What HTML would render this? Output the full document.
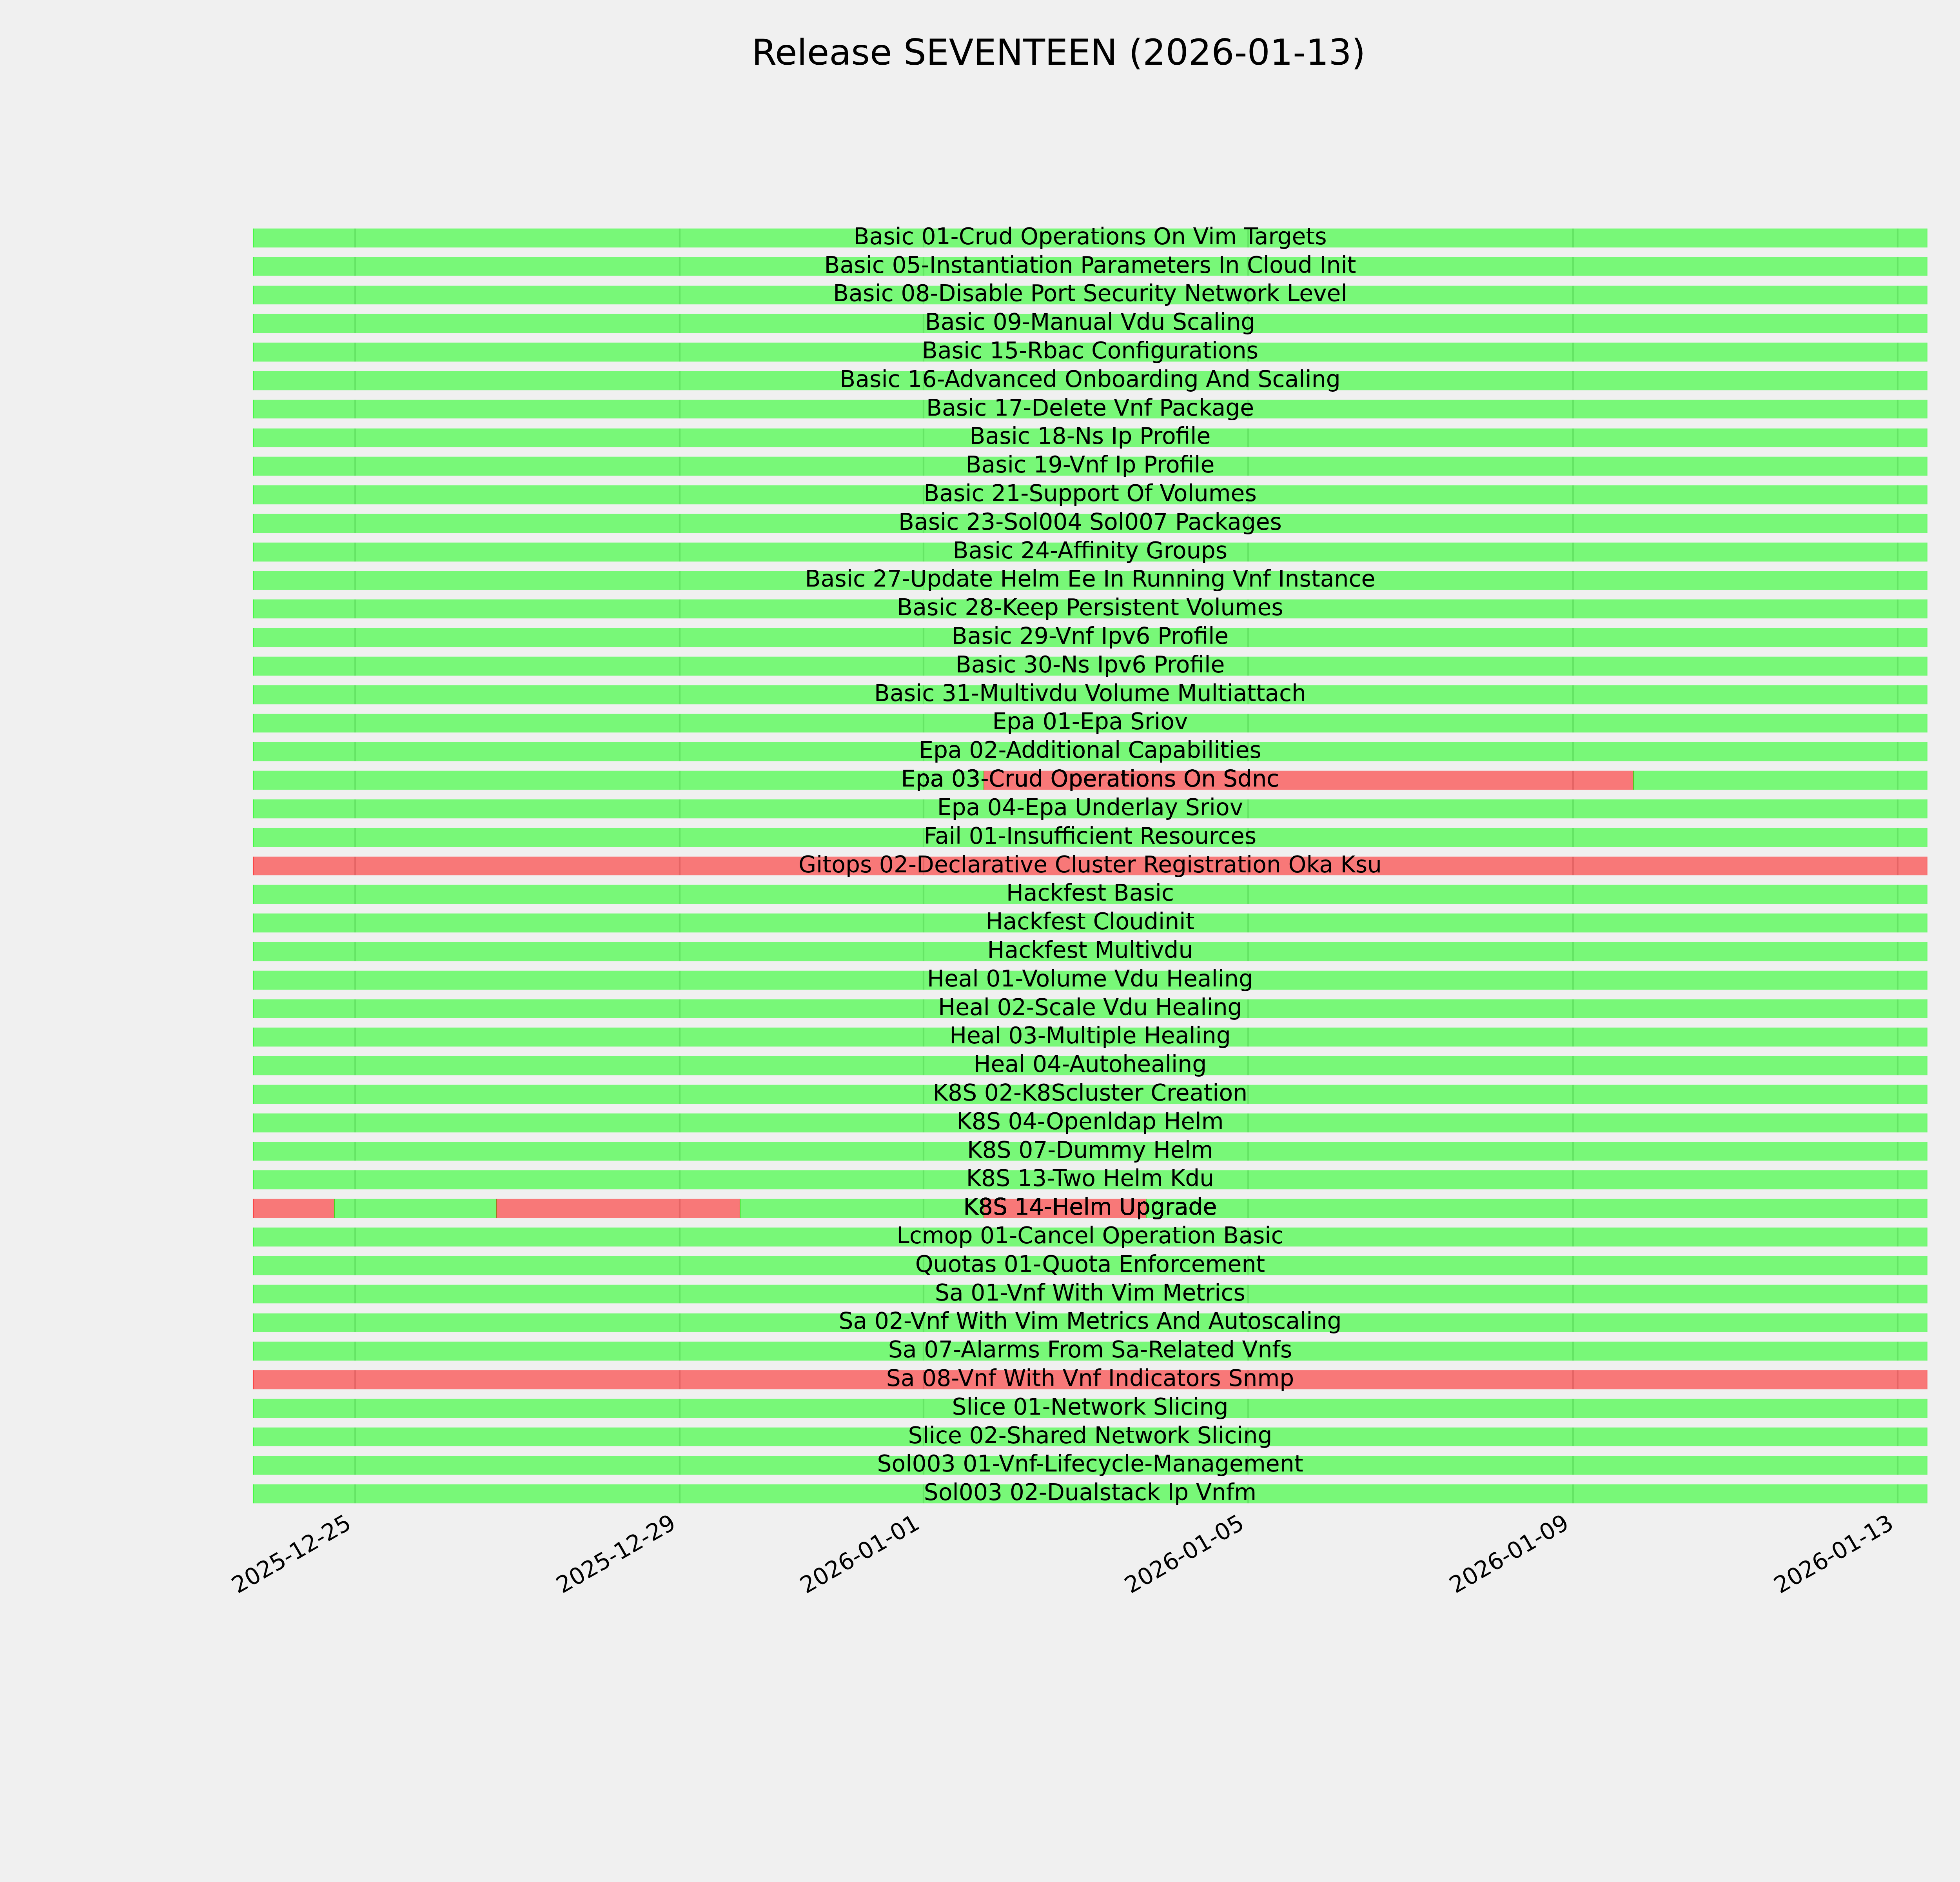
<!DOCTYPE html>
<html lang="en"><head><meta charset="utf-8"><title>Release SEVENTEEN (2026-01-13)</title>
<style>
html,body{margin:0;padding:0;background:#f0f0f0;width:5400px;height:4800px;overflow:hidden}
svg{display:block}
text{font-family:"DejaVu Sans","Liberation Sans",sans-serif;fill:#000}
.l{font-size:58.333px;text-anchor:middle}
.t{font-size:58.333px;text-anchor:end}
.g{fill:#cbcbcb}
.a{fill:#00ff00;fill-opacity:.5}
.r{fill:#ff0000;fill-opacity:.5}
.s{fill:#f0f0f0}
</style></head><body>
<svg width="5400" height="4800" viewBox="0 0 5400 4800">
<rect width="5400" height="4800" fill="#f0f0f0"/>
<g><rect class="g" x="903.917" y="579.743" width="4.167" height="54.514"/><rect class="g" x="1731.917" y="579.743" width="4.167" height="54.514"/><rect class="g" x="2353.917" y="579.743" width="4.167" height="54.514"/><rect class="g" x="3181.917" y="579.743" width="4.167" height="54.514"/><rect class="g" x="4010.917" y="579.743" width="4.167" height="54.514"/><rect class="g" x="4838.917" y="579.743" width="4.167" height="54.514"/><rect class="a" x="646" y="579.743" width="4270" height="54.514"/><rect class="a" x="644.958" y="579.743" width="2.083" height="54.514"/><rect class="a" x="4914.958" y="579.743" width="2.083" height="54.514"/><rect class="s" x="600" y="578.743" width="4400" height="4"/><rect class="s" x="600" y="631.257" width="4400" height="4"/></g>
<g><rect class="g" x="903.917" y="652.743" width="4.167" height="53.514"/><rect class="g" x="1731.917" y="652.743" width="4.167" height="53.514"/><rect class="g" x="2353.917" y="652.743" width="4.167" height="53.514"/><rect class="g" x="3181.917" y="652.743" width="4.167" height="53.514"/><rect class="g" x="4010.917" y="652.743" width="4.167" height="53.514"/><rect class="g" x="4838.917" y="652.743" width="4.167" height="53.514"/><rect class="a" x="646" y="652.743" width="4270" height="53.514"/><rect class="a" x="644.958" y="652.743" width="2.083" height="53.514"/><rect class="a" x="4914.958" y="652.743" width="2.083" height="53.514"/><rect class="s" x="600" y="651.743" width="4400" height="4"/><rect class="s" x="600" y="703.257" width="4400" height="4"/></g>
<g><rect class="g" x="903.917" y="725.743" width="4.167" height="53.514"/><rect class="g" x="1731.917" y="725.743" width="4.167" height="53.514"/><rect class="g" x="2353.917" y="725.743" width="4.167" height="53.514"/><rect class="g" x="3181.917" y="725.743" width="4.167" height="53.514"/><rect class="g" x="4010.917" y="725.743" width="4.167" height="53.514"/><rect class="g" x="4838.917" y="725.743" width="4.167" height="53.514"/><rect class="a" x="646" y="725.743" width="4270" height="53.514"/><rect class="a" x="644.958" y="725.743" width="2.083" height="53.514"/><rect class="a" x="4914.958" y="725.743" width="2.083" height="53.514"/><rect class="s" x="600" y="724.743" width="4400" height="4"/><rect class="s" x="600" y="776.257" width="4400" height="4"/></g>
<g><rect class="g" x="903.917" y="797.743" width="4.167" height="54.514"/><rect class="g" x="1731.917" y="797.743" width="4.167" height="54.514"/><rect class="g" x="2353.917" y="797.743" width="4.167" height="54.514"/><rect class="g" x="3181.917" y="797.743" width="4.167" height="54.514"/><rect class="g" x="4010.917" y="797.743" width="4.167" height="54.514"/><rect class="g" x="4838.917" y="797.743" width="4.167" height="54.514"/><rect class="a" x="646" y="797.743" width="4270" height="54.514"/><rect class="a" x="644.958" y="797.743" width="2.083" height="54.514"/><rect class="a" x="4914.958" y="797.743" width="2.083" height="54.514"/><rect class="s" x="600" y="796.743" width="4400" height="4"/><rect class="s" x="600" y="849.257" width="4400" height="4"/></g>
<g><rect class="g" x="903.917" y="870.743" width="4.167" height="54.514"/><rect class="g" x="1731.917" y="870.743" width="4.167" height="54.514"/><rect class="g" x="2353.917" y="870.743" width="4.167" height="54.514"/><rect class="g" x="3181.917" y="870.743" width="4.167" height="54.514"/><rect class="g" x="4010.917" y="870.743" width="4.167" height="54.514"/><rect class="g" x="4838.917" y="870.743" width="4.167" height="54.514"/><rect class="a" x="646" y="870.743" width="4270" height="54.514"/><rect class="a" x="644.958" y="870.743" width="2.083" height="54.514"/><rect class="a" x="4914.958" y="870.743" width="2.083" height="54.514"/><rect class="s" x="600" y="869.743" width="4400" height="4"/><rect class="s" x="600" y="922.257" width="4400" height="4"/></g>
<g><rect class="g" x="903.917" y="943.743" width="4.167" height="54.514"/><rect class="g" x="1731.917" y="943.743" width="4.167" height="54.514"/><rect class="g" x="2353.917" y="943.743" width="4.167" height="54.514"/><rect class="g" x="3181.917" y="943.743" width="4.167" height="54.514"/><rect class="g" x="4010.917" y="943.743" width="4.167" height="54.514"/><rect class="g" x="4838.917" y="943.743" width="4.167" height="54.514"/><rect class="a" x="646" y="943.743" width="4270" height="54.514"/><rect class="a" x="644.958" y="943.743" width="2.083" height="54.514"/><rect class="a" x="4914.958" y="943.743" width="2.083" height="54.514"/><rect class="s" x="600" y="942.743" width="4400" height="4"/><rect class="s" x="600" y="995.257" width="4400" height="4"/></g>
<g><rect class="g" x="903.917" y="1016.743" width="4.167" height="53.514"/><rect class="g" x="1731.917" y="1016.743" width="4.167" height="53.514"/><rect class="g" x="2353.917" y="1016.743" width="4.167" height="53.514"/><rect class="g" x="3181.917" y="1016.743" width="4.167" height="53.514"/><rect class="g" x="4010.917" y="1016.743" width="4.167" height="53.514"/><rect class="g" x="4838.917" y="1016.743" width="4.167" height="53.514"/><rect class="a" x="646" y="1016.743" width="4270" height="53.514"/><rect class="a" x="644.958" y="1016.743" width="2.083" height="53.514"/><rect class="a" x="4914.958" y="1016.743" width="2.083" height="53.514"/><rect class="s" x="600" y="1015.743" width="4400" height="4"/><rect class="s" x="600" y="1067.257" width="4400" height="4"/></g>
<g><rect class="g" x="903.917" y="1089.743" width="4.167" height="53.514"/><rect class="g" x="1731.917" y="1089.743" width="4.167" height="53.514"/><rect class="g" x="2353.917" y="1089.743" width="4.167" height="53.514"/><rect class="g" x="3181.917" y="1089.743" width="4.167" height="53.514"/><rect class="g" x="4010.917" y="1089.743" width="4.167" height="53.514"/><rect class="g" x="4838.917" y="1089.743" width="4.167" height="53.514"/><rect class="a" x="646" y="1089.743" width="4270" height="53.514"/><rect class="a" x="644.958" y="1089.743" width="2.083" height="53.514"/><rect class="a" x="4914.958" y="1089.743" width="2.083" height="53.514"/><rect class="s" x="600" y="1088.743" width="4400" height="4"/><rect class="s" x="600" y="1140.257" width="4400" height="4"/></g>
<g><rect class="g" x="903.917" y="1161.743" width="4.167" height="54.514"/><rect class="g" x="1731.917" y="1161.743" width="4.167" height="54.514"/><rect class="g" x="2353.917" y="1161.743" width="4.167" height="54.514"/><rect class="g" x="3181.917" y="1161.743" width="4.167" height="54.514"/><rect class="g" x="4010.917" y="1161.743" width="4.167" height="54.514"/><rect class="g" x="4838.917" y="1161.743" width="4.167" height="54.514"/><rect class="a" x="646" y="1161.743" width="4270" height="54.514"/><rect class="a" x="644.958" y="1161.743" width="2.083" height="54.514"/><rect class="a" x="4914.958" y="1161.743" width="2.083" height="54.514"/><rect class="s" x="600" y="1160.743" width="4400" height="4"/><rect class="s" x="600" y="1213.257" width="4400" height="4"/></g>
<g><rect class="g" x="903.917" y="1234.743" width="4.167" height="54.514"/><rect class="g" x="1731.917" y="1234.743" width="4.167" height="54.514"/><rect class="g" x="2353.917" y="1234.743" width="4.167" height="54.514"/><rect class="g" x="3181.917" y="1234.743" width="4.167" height="54.514"/><rect class="g" x="4010.917" y="1234.743" width="4.167" height="54.514"/><rect class="g" x="4838.917" y="1234.743" width="4.167" height="54.514"/><rect class="a" x="646" y="1234.743" width="4270" height="54.514"/><rect class="a" x="644.958" y="1234.743" width="2.083" height="54.514"/><rect class="a" x="4914.958" y="1234.743" width="2.083" height="54.514"/><rect class="s" x="600" y="1233.743" width="4400" height="4"/><rect class="s" x="600" y="1286.257" width="4400" height="4"/></g>
<g><rect class="g" x="903.917" y="1307.743" width="4.167" height="54.514"/><rect class="g" x="1731.917" y="1307.743" width="4.167" height="54.514"/><rect class="g" x="2353.917" y="1307.743" width="4.167" height="54.514"/><rect class="g" x="3181.917" y="1307.743" width="4.167" height="54.514"/><rect class="g" x="4010.917" y="1307.743" width="4.167" height="54.514"/><rect class="g" x="4838.917" y="1307.743" width="4.167" height="54.514"/><rect class="a" x="646" y="1307.743" width="4270" height="54.514"/><rect class="a" x="644.958" y="1307.743" width="2.083" height="54.514"/><rect class="a" x="4914.958" y="1307.743" width="2.083" height="54.514"/><rect class="s" x="600" y="1306.743" width="4400" height="4"/><rect class="s" x="600" y="1359.257" width="4400" height="4"/></g>
<g><rect class="g" x="903.917" y="1380.743" width="4.167" height="54.514"/><rect class="g" x="1731.917" y="1380.743" width="4.167" height="54.514"/><rect class="g" x="2353.917" y="1380.743" width="4.167" height="54.514"/><rect class="g" x="3181.917" y="1380.743" width="4.167" height="54.514"/><rect class="g" x="4010.917" y="1380.743" width="4.167" height="54.514"/><rect class="g" x="4838.917" y="1380.743" width="4.167" height="54.514"/><rect class="a" x="646" y="1380.743" width="4270" height="54.514"/><rect class="a" x="644.958" y="1380.743" width="2.083" height="54.514"/><rect class="a" x="4914.958" y="1380.743" width="2.083" height="54.514"/><rect class="s" x="600" y="1379.743" width="4400" height="4"/><rect class="s" x="600" y="1432.257" width="4400" height="4"/></g>
<g><rect class="g" x="903.917" y="1453.743" width="4.167" height="53.514"/><rect class="g" x="1731.917" y="1453.743" width="4.167" height="53.514"/><rect class="g" x="2353.917" y="1453.743" width="4.167" height="53.514"/><rect class="g" x="3181.917" y="1453.743" width="4.167" height="53.514"/><rect class="g" x="4010.917" y="1453.743" width="4.167" height="53.514"/><rect class="g" x="4838.917" y="1453.743" width="4.167" height="53.514"/><rect class="a" x="646" y="1453.743" width="4270" height="53.514"/><rect class="a" x="644.958" y="1453.743" width="2.083" height="53.514"/><rect class="a" x="4914.958" y="1453.743" width="2.083" height="53.514"/><rect class="s" x="600" y="1452.743" width="4400" height="4"/><rect class="s" x="600" y="1504.257" width="4400" height="4"/></g>
<g><rect class="g" x="903.917" y="1525.743" width="4.167" height="54.514"/><rect class="g" x="1731.917" y="1525.743" width="4.167" height="54.514"/><rect class="g" x="2353.917" y="1525.743" width="4.167" height="54.514"/><rect class="g" x="3181.917" y="1525.743" width="4.167" height="54.514"/><rect class="g" x="4010.917" y="1525.743" width="4.167" height="54.514"/><rect class="g" x="4838.917" y="1525.743" width="4.167" height="54.514"/><rect class="a" x="646" y="1525.743" width="4270" height="54.514"/><rect class="a" x="644.958" y="1525.743" width="2.083" height="54.514"/><rect class="a" x="4914.958" y="1525.743" width="2.083" height="54.514"/><rect class="s" x="600" y="1524.743" width="4400" height="4"/><rect class="s" x="600" y="1577.257" width="4400" height="4"/></g>
<g><rect class="g" x="903.917" y="1598.743" width="4.167" height="54.514"/><rect class="g" x="1731.917" y="1598.743" width="4.167" height="54.514"/><rect class="g" x="2353.917" y="1598.743" width="4.167" height="54.514"/><rect class="g" x="3181.917" y="1598.743" width="4.167" height="54.514"/><rect class="g" x="4010.917" y="1598.743" width="4.167" height="54.514"/><rect class="g" x="4838.917" y="1598.743" width="4.167" height="54.514"/><rect class="a" x="646" y="1598.743" width="4270" height="54.514"/><rect class="a" x="644.958" y="1598.743" width="2.083" height="54.514"/><rect class="a" x="4914.958" y="1598.743" width="2.083" height="54.514"/><rect class="s" x="600" y="1597.743" width="4400" height="4"/><rect class="s" x="600" y="1650.257" width="4400" height="4"/></g>
<g><rect class="g" x="903.917" y="1671.743" width="4.167" height="54.514"/><rect class="g" x="1731.917" y="1671.743" width="4.167" height="54.514"/><rect class="g" x="2353.917" y="1671.743" width="4.167" height="54.514"/><rect class="g" x="3181.917" y="1671.743" width="4.167" height="54.514"/><rect class="g" x="4010.917" y="1671.743" width="4.167" height="54.514"/><rect class="g" x="4838.917" y="1671.743" width="4.167" height="54.514"/><rect class="a" x="646" y="1671.743" width="4270" height="54.514"/><rect class="a" x="644.958" y="1671.743" width="2.083" height="54.514"/><rect class="a" x="4914.958" y="1671.743" width="2.083" height="54.514"/><rect class="s" x="600" y="1670.743" width="4400" height="4"/><rect class="s" x="600" y="1723.257" width="4400" height="4"/></g>
<g><rect class="g" x="903.917" y="1744.743" width="4.167" height="54.514"/><rect class="g" x="1731.917" y="1744.743" width="4.167" height="54.514"/><rect class="g" x="2353.917" y="1744.743" width="4.167" height="54.514"/><rect class="g" x="3181.917" y="1744.743" width="4.167" height="54.514"/><rect class="g" x="4010.917" y="1744.743" width="4.167" height="54.514"/><rect class="g" x="4838.917" y="1744.743" width="4.167" height="54.514"/><rect class="a" x="646" y="1744.743" width="4270" height="54.514"/><rect class="a" x="644.958" y="1744.743" width="2.083" height="54.514"/><rect class="a" x="4914.958" y="1744.743" width="2.083" height="54.514"/><rect class="s" x="600" y="1743.743" width="4400" height="4"/><rect class="s" x="600" y="1796.257" width="4400" height="4"/></g>
<g><rect class="g" x="903.917" y="1817.743" width="4.167" height="53.514"/><rect class="g" x="1731.917" y="1817.743" width="4.167" height="53.514"/><rect class="g" x="2353.917" y="1817.743" width="4.167" height="53.514"/><rect class="g" x="3181.917" y="1817.743" width="4.167" height="53.514"/><rect class="g" x="4010.917" y="1817.743" width="4.167" height="53.514"/><rect class="g" x="4838.917" y="1817.743" width="4.167" height="53.514"/><rect class="a" x="646" y="1817.743" width="4270" height="53.514"/><rect class="a" x="644.958" y="1817.743" width="2.083" height="53.514"/><rect class="a" x="4914.958" y="1817.743" width="2.083" height="53.514"/><rect class="s" x="600" y="1816.743" width="4400" height="4"/><rect class="s" x="600" y="1868.257" width="4400" height="4"/></g>
<g><rect class="g" x="903.917" y="1889.743" width="4.167" height="54.514"/><rect class="g" x="1731.917" y="1889.743" width="4.167" height="54.514"/><rect class="g" x="2353.917" y="1889.743" width="4.167" height="54.514"/><rect class="g" x="3181.917" y="1889.743" width="4.167" height="54.514"/><rect class="g" x="4010.917" y="1889.743" width="4.167" height="54.514"/><rect class="g" x="4838.917" y="1889.743" width="4.167" height="54.514"/><rect class="a" x="646" y="1889.743" width="4270" height="54.514"/><rect class="a" x="644.958" y="1889.743" width="2.083" height="54.514"/><rect class="a" x="4914.958" y="1889.743" width="2.083" height="54.514"/><rect class="s" x="600" y="1888.743" width="4400" height="4"/><rect class="s" x="600" y="1941.257" width="4400" height="4"/></g>
<g><rect class="g" x="903.917" y="1962.743" width="4.167" height="54.514"/><rect class="g" x="1731.917" y="1962.743" width="4.167" height="54.514"/><rect class="g" x="2353.917" y="1962.743" width="4.167" height="54.514"/><rect class="g" x="3181.917" y="1962.743" width="4.167" height="54.514"/><rect class="g" x="4010.917" y="1962.743" width="4.167" height="54.514"/><rect class="g" x="4838.917" y="1962.743" width="4.167" height="54.514"/><rect class="a" x="646" y="1962.743" width="1864" height="54.514"/><rect class="a" x="644.958" y="1962.743" width="2.083" height="54.514"/><rect class="a" x="2508.958" y="1962.743" width="2.083" height="54.514"/><rect class="r" x="2510" y="1962.743" width="1657" height="54.514"/><rect class="r" x="2508.958" y="1962.743" width="2.083" height="54.514"/><rect class="r" x="4165.958" y="1962.743" width="2.083" height="54.514"/><rect class="a" x="4167" y="1962.743" width="749" height="54.514"/><rect class="a" x="4165.958" y="1962.743" width="2.083" height="54.514"/><rect class="a" x="4914.958" y="1962.743" width="2.083" height="54.514"/><rect class="s" x="600" y="1961.743" width="4400" height="4"/><rect class="s" x="600" y="2014.257" width="4400" height="4"/></g>
<g><rect class="g" x="903.917" y="2035.743" width="4.167" height="54.514"/><rect class="g" x="1731.917" y="2035.743" width="4.167" height="54.514"/><rect class="g" x="2353.917" y="2035.743" width="4.167" height="54.514"/><rect class="g" x="3181.917" y="2035.743" width="4.167" height="54.514"/><rect class="g" x="4010.917" y="2035.743" width="4.167" height="54.514"/><rect class="g" x="4838.917" y="2035.743" width="4.167" height="54.514"/><rect class="a" x="646" y="2035.743" width="4270" height="54.514"/><rect class="a" x="644.958" y="2035.743" width="2.083" height="54.514"/><rect class="a" x="4914.958" y="2035.743" width="2.083" height="54.514"/><rect class="s" x="600" y="2034.743" width="4400" height="4"/><rect class="s" x="600" y="2087.257" width="4400" height="4"/></g>
<g><rect class="g" x="903.917" y="2108.743" width="4.167" height="54.514"/><rect class="g" x="1731.917" y="2108.743" width="4.167" height="54.514"/><rect class="g" x="2353.917" y="2108.743" width="4.167" height="54.514"/><rect class="g" x="3181.917" y="2108.743" width="4.167" height="54.514"/><rect class="g" x="4010.917" y="2108.743" width="4.167" height="54.514"/><rect class="g" x="4838.917" y="2108.743" width="4.167" height="54.514"/><rect class="a" x="646" y="2108.743" width="4270" height="54.514"/><rect class="a" x="644.958" y="2108.743" width="2.083" height="54.514"/><rect class="a" x="4914.958" y="2108.743" width="2.083" height="54.514"/><rect class="s" x="600" y="2107.743" width="4400" height="4"/><rect class="s" x="600" y="2160.257" width="4400" height="4"/></g>
<g><rect class="g" x="903.917" y="2181.743" width="4.167" height="53.514"/><rect class="g" x="1731.917" y="2181.743" width="4.167" height="53.514"/><rect class="g" x="2353.917" y="2181.743" width="4.167" height="53.514"/><rect class="g" x="3181.917" y="2181.743" width="4.167" height="53.514"/><rect class="g" x="4010.917" y="2181.743" width="4.167" height="53.514"/><rect class="g" x="4838.917" y="2181.743" width="4.167" height="53.514"/><rect class="r" x="646" y="2181.743" width="4270" height="53.514"/><rect class="r" x="644.958" y="2181.743" width="2.083" height="53.514"/><rect class="r" x="4914.958" y="2181.743" width="2.083" height="53.514"/><rect class="s" x="600" y="2180.743" width="4400" height="4"/><rect class="s" x="600" y="2232.257" width="4400" height="4"/></g>
<g><rect class="g" x="903.917" y="2253.743" width="4.167" height="54.514"/><rect class="g" x="1731.917" y="2253.743" width="4.167" height="54.514"/><rect class="g" x="2353.917" y="2253.743" width="4.167" height="54.514"/><rect class="g" x="3181.917" y="2253.743" width="4.167" height="54.514"/><rect class="g" x="4010.917" y="2253.743" width="4.167" height="54.514"/><rect class="g" x="4838.917" y="2253.743" width="4.167" height="54.514"/><rect class="a" x="646" y="2253.743" width="4270" height="54.514"/><rect class="a" x="644.958" y="2253.743" width="2.083" height="54.514"/><rect class="a" x="4914.958" y="2253.743" width="2.083" height="54.514"/><rect class="s" x="600" y="2252.743" width="4400" height="4"/><rect class="s" x="600" y="2305.257" width="4400" height="4"/></g>
<g><rect class="g" x="903.917" y="2326.743" width="4.167" height="54.514"/><rect class="g" x="1731.917" y="2326.743" width="4.167" height="54.514"/><rect class="g" x="2353.917" y="2326.743" width="4.167" height="54.514"/><rect class="g" x="3181.917" y="2326.743" width="4.167" height="54.514"/><rect class="g" x="4010.917" y="2326.743" width="4.167" height="54.514"/><rect class="g" x="4838.917" y="2326.743" width="4.167" height="54.514"/><rect class="a" x="646" y="2326.743" width="4270" height="54.514"/><rect class="a" x="644.958" y="2326.743" width="2.083" height="54.514"/><rect class="a" x="4914.958" y="2326.743" width="2.083" height="54.514"/><rect class="s" x="600" y="2325.743" width="4400" height="4"/><rect class="s" x="600" y="2378.257" width="4400" height="4"/></g>
<g><rect class="g" x="903.917" y="2399.743" width="4.167" height="54.514"/><rect class="g" x="1731.917" y="2399.743" width="4.167" height="54.514"/><rect class="g" x="2353.917" y="2399.743" width="4.167" height="54.514"/><rect class="g" x="3181.917" y="2399.743" width="4.167" height="54.514"/><rect class="g" x="4010.917" y="2399.743" width="4.167" height="54.514"/><rect class="g" x="4838.917" y="2399.743" width="4.167" height="54.514"/><rect class="a" x="646" y="2399.743" width="4270" height="54.514"/><rect class="a" x="644.958" y="2399.743" width="2.083" height="54.514"/><rect class="a" x="4914.958" y="2399.743" width="2.083" height="54.514"/><rect class="s" x="600" y="2398.743" width="4400" height="4"/><rect class="s" x="600" y="2451.257" width="4400" height="4"/></g>
<g><rect class="g" x="903.917" y="2472.743" width="4.167" height="54.514"/><rect class="g" x="1731.917" y="2472.743" width="4.167" height="54.514"/><rect class="g" x="2353.917" y="2472.743" width="4.167" height="54.514"/><rect class="g" x="3181.917" y="2472.743" width="4.167" height="54.514"/><rect class="g" x="4010.917" y="2472.743" width="4.167" height="54.514"/><rect class="g" x="4838.917" y="2472.743" width="4.167" height="54.514"/><rect class="a" x="646" y="2472.743" width="4270" height="54.514"/><rect class="a" x="644.958" y="2472.743" width="2.083" height="54.514"/><rect class="a" x="4914.958" y="2472.743" width="2.083" height="54.514"/><rect class="s" x="600" y="2471.743" width="4400" height="4"/><rect class="s" x="600" y="2524.257" width="4400" height="4"/></g>
<g><rect class="g" x="903.917" y="2545.743" width="4.167" height="53.514"/><rect class="g" x="1731.917" y="2545.743" width="4.167" height="53.514"/><rect class="g" x="2353.917" y="2545.743" width="4.167" height="53.514"/><rect class="g" x="3181.917" y="2545.743" width="4.167" height="53.514"/><rect class="g" x="4010.917" y="2545.743" width="4.167" height="53.514"/><rect class="g" x="4838.917" y="2545.743" width="4.167" height="53.514"/><rect class="a" x="646" y="2545.743" width="4270" height="53.514"/><rect class="a" x="644.958" y="2545.743" width="2.083" height="53.514"/><rect class="a" x="4914.958" y="2545.743" width="2.083" height="53.514"/><rect class="s" x="600" y="2544.743" width="4400" height="4"/><rect class="s" x="600" y="2596.257" width="4400" height="4"/></g>
<g><rect class="g" x="903.917" y="2617.743" width="4.167" height="54.514"/><rect class="g" x="1731.917" y="2617.743" width="4.167" height="54.514"/><rect class="g" x="2353.917" y="2617.743" width="4.167" height="54.514"/><rect class="g" x="3181.917" y="2617.743" width="4.167" height="54.514"/><rect class="g" x="4010.917" y="2617.743" width="4.167" height="54.514"/><rect class="g" x="4838.917" y="2617.743" width="4.167" height="54.514"/><rect class="a" x="646" y="2617.743" width="4270" height="54.514"/><rect class="a" x="644.958" y="2617.743" width="2.083" height="54.514"/><rect class="a" x="4914.958" y="2617.743" width="2.083" height="54.514"/><rect class="s" x="600" y="2616.743" width="4400" height="4"/><rect class="s" x="600" y="2669.257" width="4400" height="4"/></g>
<g><rect class="g" x="903.917" y="2690.743" width="4.167" height="54.514"/><rect class="g" x="1731.917" y="2690.743" width="4.167" height="54.514"/><rect class="g" x="2353.917" y="2690.743" width="4.167" height="54.514"/><rect class="g" x="3181.917" y="2690.743" width="4.167" height="54.514"/><rect class="g" x="4010.917" y="2690.743" width="4.167" height="54.514"/><rect class="g" x="4838.917" y="2690.743" width="4.167" height="54.514"/><rect class="a" x="646" y="2690.743" width="4270" height="54.514"/><rect class="a" x="644.958" y="2690.743" width="2.083" height="54.514"/><rect class="a" x="4914.958" y="2690.743" width="2.083" height="54.514"/><rect class="s" x="600" y="2689.743" width="4400" height="4"/><rect class="s" x="600" y="2742.257" width="4400" height="4"/></g>
<g><rect class="g" x="903.917" y="2763.743" width="4.167" height="54.514"/><rect class="g" x="1731.917" y="2763.743" width="4.167" height="54.514"/><rect class="g" x="2353.917" y="2763.743" width="4.167" height="54.514"/><rect class="g" x="3181.917" y="2763.743" width="4.167" height="54.514"/><rect class="g" x="4010.917" y="2763.743" width="4.167" height="54.514"/><rect class="g" x="4838.917" y="2763.743" width="4.167" height="54.514"/><rect class="a" x="646" y="2763.743" width="4270" height="54.514"/><rect class="a" x="644.958" y="2763.743" width="2.083" height="54.514"/><rect class="a" x="4914.958" y="2763.743" width="2.083" height="54.514"/><rect class="s" x="600" y="2762.743" width="4400" height="4"/><rect class="s" x="600" y="2815.257" width="4400" height="4"/></g>
<g><rect class="g" x="903.917" y="2836.743" width="4.167" height="54.514"/><rect class="g" x="1731.917" y="2836.743" width="4.167" height="54.514"/><rect class="g" x="2353.917" y="2836.743" width="4.167" height="54.514"/><rect class="g" x="3181.917" y="2836.743" width="4.167" height="54.514"/><rect class="g" x="4010.917" y="2836.743" width="4.167" height="54.514"/><rect class="g" x="4838.917" y="2836.743" width="4.167" height="54.514"/><rect class="a" x="646" y="2836.743" width="4270" height="54.514"/><rect class="a" x="644.958" y="2836.743" width="2.083" height="54.514"/><rect class="a" x="4914.958" y="2836.743" width="2.083" height="54.514"/><rect class="s" x="600" y="2835.743" width="4400" height="4"/><rect class="s" x="600" y="2888.257" width="4400" height="4"/></g>
<g><rect class="g" x="903.917" y="2909.743" width="4.167" height="53.514"/><rect class="g" x="1731.917" y="2909.743" width="4.167" height="53.514"/><rect class="g" x="2353.917" y="2909.743" width="4.167" height="53.514"/><rect class="g" x="3181.917" y="2909.743" width="4.167" height="53.514"/><rect class="g" x="4010.917" y="2909.743" width="4.167" height="53.514"/><rect class="g" x="4838.917" y="2909.743" width="4.167" height="53.514"/><rect class="a" x="646" y="2909.743" width="4270" height="53.514"/><rect class="a" x="644.958" y="2909.743" width="2.083" height="53.514"/><rect class="a" x="4914.958" y="2909.743" width="2.083" height="53.514"/><rect class="s" x="600" y="2908.743" width="4400" height="4"/><rect class="s" x="600" y="2960.257" width="4400" height="4"/></g>
<g><rect class="g" x="903.917" y="2981.743" width="4.167" height="54.514"/><rect class="g" x="1731.917" y="2981.743" width="4.167" height="54.514"/><rect class="g" x="2353.917" y="2981.743" width="4.167" height="54.514"/><rect class="g" x="3181.917" y="2981.743" width="4.167" height="54.514"/><rect class="g" x="4010.917" y="2981.743" width="4.167" height="54.514"/><rect class="g" x="4838.917" y="2981.743" width="4.167" height="54.514"/><rect class="a" x="646" y="2981.743" width="4270" height="54.514"/><rect class="a" x="644.958" y="2981.743" width="2.083" height="54.514"/><rect class="a" x="4914.958" y="2981.743" width="2.083" height="54.514"/><rect class="s" x="600" y="2980.743" width="4400" height="4"/><rect class="s" x="600" y="3033.257" width="4400" height="4"/></g>
<g><rect class="g" x="903.917" y="3054.743" width="4.167" height="54.514"/><rect class="g" x="1731.917" y="3054.743" width="4.167" height="54.514"/><rect class="g" x="2353.917" y="3054.743" width="4.167" height="54.514"/><rect class="g" x="3181.917" y="3054.743" width="4.167" height="54.514"/><rect class="g" x="4010.917" y="3054.743" width="4.167" height="54.514"/><rect class="g" x="4838.917" y="3054.743" width="4.167" height="54.514"/><rect class="r" x="646" y="3054.743" width="207" height="54.514"/><rect class="r" x="644.958" y="3054.743" width="2.083" height="54.514"/><rect class="r" x="851.958" y="3054.743" width="2.083" height="54.514"/><rect class="a" x="853" y="3054.743" width="414" height="54.514"/><rect class="a" x="851.958" y="3054.743" width="2.083" height="54.514"/><rect class="a" x="1265.958" y="3054.743" width="2.083" height="54.514"/><rect class="r" x="1267" y="3054.743" width="621" height="54.514"/><rect class="r" x="1265.958" y="3054.743" width="2.083" height="54.514"/><rect class="r" x="1886.958" y="3054.743" width="2.083" height="54.514"/><rect class="a" x="1888" y="3054.743" width="622" height="54.514"/><rect class="a" x="1886.958" y="3054.743" width="2.083" height="54.514"/><rect class="a" x="2508.958" y="3054.743" width="2.083" height="54.514"/><rect class="r" x="2510" y="3054.743" width="414" height="54.514"/><rect class="r" x="2508.958" y="3054.743" width="2.083" height="54.514"/><rect class="r" x="2922.958" y="3054.743" width="2.083" height="54.514"/><rect class="a" x="2924" y="3054.743" width="1992" height="54.514"/><rect class="a" x="2922.958" y="3054.743" width="2.083" height="54.514"/><rect class="a" x="4914.958" y="3054.743" width="2.083" height="54.514"/><rect class="s" x="600" y="3053.743" width="4400" height="4"/><rect class="s" x="600" y="3106.257" width="4400" height="4"/></g>
<g><rect class="g" x="903.917" y="3127.743" width="4.167" height="54.514"/><rect class="g" x="1731.917" y="3127.743" width="4.167" height="54.514"/><rect class="g" x="2353.917" y="3127.743" width="4.167" height="54.514"/><rect class="g" x="3181.917" y="3127.743" width="4.167" height="54.514"/><rect class="g" x="4010.917" y="3127.743" width="4.167" height="54.514"/><rect class="g" x="4838.917" y="3127.743" width="4.167" height="54.514"/><rect class="a" x="646" y="3127.743" width="4270" height="54.514"/><rect class="a" x="644.958" y="3127.743" width="2.083" height="54.514"/><rect class="a" x="4914.958" y="3127.743" width="2.083" height="54.514"/><rect class="s" x="600" y="3126.743" width="4400" height="4"/><rect class="s" x="600" y="3179.257" width="4400" height="4"/></g>
<g><rect class="g" x="903.917" y="3200.743" width="4.167" height="54.514"/><rect class="g" x="1731.917" y="3200.743" width="4.167" height="54.514"/><rect class="g" x="2353.917" y="3200.743" width="4.167" height="54.514"/><rect class="g" x="3181.917" y="3200.743" width="4.167" height="54.514"/><rect class="g" x="4010.917" y="3200.743" width="4.167" height="54.514"/><rect class="g" x="4838.917" y="3200.743" width="4.167" height="54.514"/><rect class="a" x="646" y="3200.743" width="4270" height="54.514"/><rect class="a" x="644.958" y="3200.743" width="2.083" height="54.514"/><rect class="a" x="4914.958" y="3200.743" width="2.083" height="54.514"/><rect class="s" x="600" y="3199.743" width="4400" height="4"/><rect class="s" x="600" y="3252.257" width="4400" height="4"/></g>
<g><rect class="g" x="903.917" y="3273.743" width="4.167" height="53.514"/><rect class="g" x="1731.917" y="3273.743" width="4.167" height="53.514"/><rect class="g" x="2353.917" y="3273.743" width="4.167" height="53.514"/><rect class="g" x="3181.917" y="3273.743" width="4.167" height="53.514"/><rect class="g" x="4010.917" y="3273.743" width="4.167" height="53.514"/><rect class="g" x="4838.917" y="3273.743" width="4.167" height="53.514"/><rect class="a" x="646" y="3273.743" width="4270" height="53.514"/><rect class="a" x="644.958" y="3273.743" width="2.083" height="53.514"/><rect class="a" x="4914.958" y="3273.743" width="2.083" height="53.514"/><rect class="s" x="600" y="3272.743" width="4400" height="4"/><rect class="s" x="600" y="3324.257" width="4400" height="4"/></g>
<g><rect class="g" x="903.917" y="3346.743" width="4.167" height="53.514"/><rect class="g" x="1731.917" y="3346.743" width="4.167" height="53.514"/><rect class="g" x="2353.917" y="3346.743" width="4.167" height="53.514"/><rect class="g" x="3181.917" y="3346.743" width="4.167" height="53.514"/><rect class="g" x="4010.917" y="3346.743" width="4.167" height="53.514"/><rect class="g" x="4838.917" y="3346.743" width="4.167" height="53.514"/><rect class="a" x="646" y="3346.743" width="4270" height="53.514"/><rect class="a" x="644.958" y="3346.743" width="2.083" height="53.514"/><rect class="a" x="4914.958" y="3346.743" width="2.083" height="53.514"/><rect class="s" x="600" y="3345.743" width="4400" height="4"/><rect class="s" x="600" y="3397.257" width="4400" height="4"/></g>
<g><rect class="g" x="903.917" y="3418.743" width="4.167" height="54.514"/><rect class="g" x="1731.917" y="3418.743" width="4.167" height="54.514"/><rect class="g" x="2353.917" y="3418.743" width="4.167" height="54.514"/><rect class="g" x="3181.917" y="3418.743" width="4.167" height="54.514"/><rect class="g" x="4010.917" y="3418.743" width="4.167" height="54.514"/><rect class="g" x="4838.917" y="3418.743" width="4.167" height="54.514"/><rect class="a" x="646" y="3418.743" width="4270" height="54.514"/><rect class="a" x="644.958" y="3418.743" width="2.083" height="54.514"/><rect class="a" x="4914.958" y="3418.743" width="2.083" height="54.514"/><rect class="s" x="600" y="3417.743" width="4400" height="4"/><rect class="s" x="600" y="3470.257" width="4400" height="4"/></g>
<g><rect class="g" x="903.917" y="3491.743" width="4.167" height="54.514"/><rect class="g" x="1731.917" y="3491.743" width="4.167" height="54.514"/><rect class="g" x="2353.917" y="3491.743" width="4.167" height="54.514"/><rect class="g" x="3181.917" y="3491.743" width="4.167" height="54.514"/><rect class="g" x="4010.917" y="3491.743" width="4.167" height="54.514"/><rect class="g" x="4838.917" y="3491.743" width="4.167" height="54.514"/><rect class="r" x="646" y="3491.743" width="4270" height="54.514"/><rect class="r" x="644.958" y="3491.743" width="2.083" height="54.514"/><rect class="r" x="4914.958" y="3491.743" width="2.083" height="54.514"/><rect class="s" x="600" y="3490.743" width="4400" height="4"/><rect class="s" x="600" y="3543.257" width="4400" height="4"/></g>
<g><rect class="g" x="903.917" y="3564.743" width="4.167" height="54.514"/><rect class="g" x="1731.917" y="3564.743" width="4.167" height="54.514"/><rect class="g" x="2353.917" y="3564.743" width="4.167" height="54.514"/><rect class="g" x="3181.917" y="3564.743" width="4.167" height="54.514"/><rect class="g" x="4010.917" y="3564.743" width="4.167" height="54.514"/><rect class="g" x="4838.917" y="3564.743" width="4.167" height="54.514"/><rect class="a" x="646" y="3564.743" width="4270" height="54.514"/><rect class="a" x="644.958" y="3564.743" width="2.083" height="54.514"/><rect class="a" x="4914.958" y="3564.743" width="2.083" height="54.514"/><rect class="s" x="600" y="3563.743" width="4400" height="4"/><rect class="s" x="600" y="3616.257" width="4400" height="4"/></g>
<g><rect class="g" x="903.917" y="3637.743" width="4.167" height="53.514"/><rect class="g" x="1731.917" y="3637.743" width="4.167" height="53.514"/><rect class="g" x="2353.917" y="3637.743" width="4.167" height="53.514"/><rect class="g" x="3181.917" y="3637.743" width="4.167" height="53.514"/><rect class="g" x="4010.917" y="3637.743" width="4.167" height="53.514"/><rect class="g" x="4838.917" y="3637.743" width="4.167" height="53.514"/><rect class="a" x="646" y="3637.743" width="4270" height="53.514"/><rect class="a" x="644.958" y="3637.743" width="2.083" height="53.514"/><rect class="a" x="4914.958" y="3637.743" width="2.083" height="53.514"/><rect class="s" x="600" y="3636.743" width="4400" height="4"/><rect class="s" x="600" y="3688.257" width="4400" height="4"/></g>
<g><rect class="g" x="903.917" y="3710.743" width="4.167" height="53.514"/><rect class="g" x="1731.917" y="3710.743" width="4.167" height="53.514"/><rect class="g" x="2353.917" y="3710.743" width="4.167" height="53.514"/><rect class="g" x="3181.917" y="3710.743" width="4.167" height="53.514"/><rect class="g" x="4010.917" y="3710.743" width="4.167" height="53.514"/><rect class="g" x="4838.917" y="3710.743" width="4.167" height="53.514"/><rect class="a" x="646" y="3710.743" width="4270" height="53.514"/><rect class="a" x="644.958" y="3710.743" width="2.083" height="53.514"/><rect class="a" x="4914.958" y="3710.743" width="2.083" height="53.514"/><rect class="s" x="600" y="3709.743" width="4400" height="4"/><rect class="s" x="600" y="3761.257" width="4400" height="4"/></g>
<g><rect class="g" x="903.917" y="3782.743" width="4.167" height="54.514"/><rect class="g" x="1731.917" y="3782.743" width="4.167" height="54.514"/><rect class="g" x="2353.917" y="3782.743" width="4.167" height="54.514"/><rect class="g" x="3181.917" y="3782.743" width="4.167" height="54.514"/><rect class="g" x="4010.917" y="3782.743" width="4.167" height="54.514"/><rect class="g" x="4838.917" y="3782.743" width="4.167" height="54.514"/><rect class="a" x="646" y="3782.743" width="4270" height="54.514"/><rect class="a" x="644.958" y="3782.743" width="2.083" height="54.514"/><rect class="a" x="4914.958" y="3782.743" width="2.083" height="54.514"/><rect class="s" x="600" y="3781.743" width="4400" height="4"/><rect class="s" x="600" y="3834.257" width="4400" height="4"/></g>
<text class="l" x="2781" y="622.835">Basic 01-Crud Operations On Vim Targets</text>
<text class="l" x="2781" y="695.638">Basic 05-Instantiation Parameters In Cloud Init</text>
<text class="l" x="2781" y="768.441">Basic 08-Disable Port Security Network Level</text>
<text class="l" x="2781" y="841.243">Basic 09-Manual Vdu Scaling</text>
<text class="l" x="2781" y="914.046">Basic 15-Rbac Configurations</text>
<text class="l" x="2781" y="986.849">Basic 16-Advanced Onboarding And Scaling</text>
<text class="l" x="2781" y="1059.652">Basic 17-Delete Vnf Package</text>
<text class="l" x="2781" y="1132.455">Basic 18-Ns Ip Profile</text>
<text class="l" x="2781" y="1205.258">Basic 19-Vnf Ip Profile</text>
<text class="l" x="2781" y="1278.061">Basic 21-Support Of Volumes</text>
<text class="l" x="2781" y="1350.864">Basic 23-Sol004 Sol007 Packages</text>
<text class="l" x="2781" y="1423.667">Basic 24-Affinity Groups</text>
<text class="l" x="2781" y="1496.47">Basic 27-Update Helm Ee In Running Vnf Instance</text>
<text class="l" x="2781" y="1569.273">Basic 28-Keep Persistent Volumes</text>
<text class="l" x="2781" y="1642.076">Basic 29-Vnf Ipv6 Profile</text>
<text class="l" x="2781" y="1714.879">Basic 30-Ns Ipv6 Profile</text>
<text class="l" x="2781" y="1787.682">Basic 31-Multivdu Volume Multiattach</text>
<text class="l" x="2781" y="1860.485">Epa 01-Epa Sriov</text>
<text class="l" x="2781" y="1933.288">Epa 02-Additional Capabilities</text>
<text class="l" x="2781" y="2006.091">Epa 03-Crud Operations On Sdnc</text>
<text class="l" x="2781" y="2006.091">Epa 03-Crud Operations On Sdnc</text>
<text class="l" x="2781" y="2006.091">Epa 03-Crud Operations On Sdnc</text>
<text class="l" x="2781" y="2078.894">Epa 04-Epa Underlay Sriov</text>
<text class="l" x="2781" y="2151.697">Fail 01-Insufficient Resources</text>
<text class="l" x="2781" y="2224.5">Gitops 02-Declarative Cluster Registration Oka Ksu</text>
<text class="l" x="2781" y="2297.303">Hackfest Basic</text>
<text class="l" x="2781" y="2370.106">Hackfest Cloudinit</text>
<text class="l" x="2781" y="2442.909">Hackfest Multivdu</text>
<text class="l" x="2781" y="2515.712">Heal 01-Volume Vdu Healing</text>
<text class="l" x="2781" y="2588.515">Heal 02-Scale Vdu Healing</text>
<text class="l" x="2781" y="2661.318">Heal 03-Multiple Healing</text>
<text class="l" x="2781" y="2734.121">Heal 04-Autohealing</text>
<text class="l" x="2781" y="2806.924">K8S 02-K8Scluster Creation</text>
<text class="l" x="2781" y="2879.727">K8S 04-Openldap Helm</text>
<text class="l" x="2781" y="2952.53">K8S 07-Dummy Helm</text>
<text class="l" x="2781" y="3025.333">K8S 13-Two Helm Kdu</text>
<text class="l" x="2781" y="3098.136">K8S 14-Helm Upgrade</text>
<text class="l" x="2781" y="3098.136">K8S 14-Helm Upgrade</text>
<text class="l" x="2781" y="3098.136">K8S 14-Helm Upgrade</text>
<text class="l" x="2781" y="3098.136">K8S 14-Helm Upgrade</text>
<text class="l" x="2781" y="3098.136">K8S 14-Helm Upgrade</text>
<text class="l" x="2781" y="3098.136">K8S 14-Helm Upgrade</text>
<text class="l" x="2781" y="3170.939">Lcmop 01-Cancel Operation Basic</text>
<text class="l" x="2781" y="3243.742">Quotas 01-Quota Enforcement</text>
<text class="l" x="2781" y="3316.545">Sa 01-Vnf With Vim Metrics</text>
<text class="l" x="2781" y="3389.348">Sa 02-Vnf With Vim Metrics And Autoscaling</text>
<text class="l" x="2781" y="3462.151">Sa 07-Alarms From Sa-Related Vnfs</text>
<text class="l" x="2781" y="3534.954">Sa 08-Vnf With Vnf Indicators Snmp</text>
<text class="l" x="2781" y="3607.757">Slice 01-Network Slicing</text>
<text class="l" x="2781" y="3680.559">Slice 02-Shared Network Slicing</text>
<text class="l" x="2781" y="3753.362">Sol003 01-Vnf-Lifecycle-Management</text>
<text class="l" x="2781" y="3826.165">Sol003 02-Dualstack Ip Vnfm</text>
<text class="t" transform="translate(899.897 3895.954) rotate(-30)">2025-12-25</text>
<text class="t" transform="translate(1727.917 3895.454) rotate(-30)">2025-12-29</text>
<text class="t" transform="translate(2349.808 3895.954) rotate(-30)">2026-01-01</text>
<text class="t" transform="translate(3177.828 3895.954) rotate(-30)">2026-01-05</text>
<text class="t" transform="translate(4006.349 3895.454) rotate(-30)">2026-01-09</text>
<text class="t" transform="translate(4834.37 3895.954) rotate(-30)">2026-01-13</text>
<text x="2700.5" y="164.6" style="font-size:91.667px;text-anchor:middle">Release SEVENTEEN (2026-01-13)</text>
</svg>
</body></html>
